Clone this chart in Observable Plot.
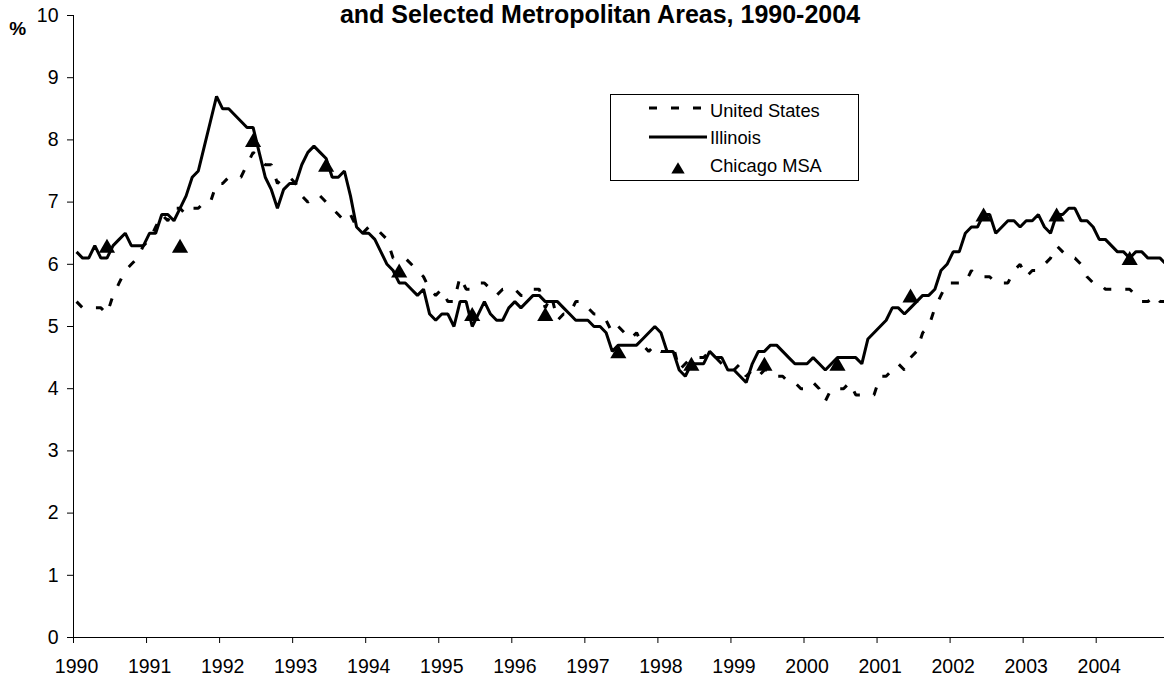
<!DOCTYPE html>
<html>
<head>
<meta charset="utf-8">
<script src="https://cdn.jsdelivr.net/npm/d3@7"></script>
<script src="https://cdn.jsdelivr.net/npm/@observablehq/plot@0.6"></script>
<style>
  html, body { margin: 0; padding: 0; background: #fff; overflow: hidden; }
  #wrap { position: relative; width: 1164px; height: 677px; overflow: hidden; background: #fff; }
  #title { position: absolute; left: 0; top: 0px; width: 1200px; text-align: center;
           font: bold 25px "Liberation Sans", Arial, sans-serif; line-height: normal; color: #000; white-space: nowrap; }
  #pct { position: absolute; left: 0; top: 18.9px; width: 35.4px; text-align: center;
         font: bold 19px/19px "Liberation Sans", Arial, sans-serif; color: #000; }
  #legend { position: absolute; left: 0; top: 0; }
  #chart svg { display: block; }
</style>
</head>
<body>
<div id="wrap">
  <div id="chart"></div>
  <div id="title">and Selected Metropolitan Areas, 1990-2004</div>
  <div id="pct">%</div>
  <svg id="legend" width="1164" height="200" font-family="'Liberation Sans', Arial, sans-serif" font-size="18.3">
    <rect x="610.5" y="94.5" width="248" height="86" fill="#fff" stroke="#000" stroke-width="1"></rect>
    <line x1="649" x2="701" y1="108" y2="108" stroke="#000" stroke-width="3" stroke-dasharray="8,14"></line>
    <text x="710" y="116.7">United States</text>
    <line x1="649" x2="707" y1="137" y2="137" stroke="#000" stroke-width="3"></line>
    <text x="710" y="144.3">Illinois</text>
    <path d="M678,162.3L684.7,173.4L671.3,173.4Z" fill="#000"></path>
    <text x="710" y="172.3">Chicago MSA</text>
  </svg>
</div>
<script>
// ---- data (monthly, Jan 1990 .. Dec 2004) ----
const startYear = 1990;
const years = [1990, 1991, 1992, 1993, 1994, 1995, 1996, 1997, 1998, 1999, 2000, 2001, 2002, 2003, 2004];
const yTicks = [0, 1, 2, 3, 4, 5, 6, 7, 8, 9, 10];

const usRate = [
  5.4, 5.3, 5.3, 5.3, 5.3, 5.2, 5.5, 5.7, 5.9, 6.0, 6.1, 6.3,
  6.4, 6.6, 6.8, 6.7, 6.9, 6.9, 6.8, 6.9, 6.9, 7.0, 7.0, 7.3,
  7.3, 7.4, 7.4, 7.4, 7.6, 7.8, 7.7, 7.6, 7.6, 7.3, 7.4, 7.4,
  7.3, 7.1, 7.0, 7.1, 7.1, 7.0, 6.9, 6.8, 6.7, 6.8, 6.6, 6.5,
  6.6, 6.6, 6.5, 6.4, 6.1, 6.1, 6.1, 6.0, 5.9, 5.8, 5.6, 5.5,
  5.6, 5.4, 5.4, 5.8, 5.6, 5.6, 5.7, 5.7, 5.6, 5.5, 5.6, 5.6,
  5.6, 5.5, 5.5, 5.6, 5.6, 5.3, 5.5, 5.1, 5.2, 5.2, 5.4, 5.4,
  5.3, 5.2, 5.2, 5.1, 4.9, 5.0, 4.9, 4.8, 4.9, 4.7, 4.6, 4.7,
  4.6, 4.6, 4.7, 4.3, 4.4, 4.5, 4.5, 4.5, 4.6, 4.5, 4.4, 4.4,
  4.3, 4.4, 4.2, 4.3, 4.2, 4.3, 4.3, 4.2, 4.2, 4.1, 4.1, 4.0,
  4.0, 4.1, 4.0, 3.8, 4.0, 4.0, 4.0, 4.1, 3.9, 3.9, 3.9, 3.9,
  4.2, 4.2, 4.3, 4.4, 4.3, 4.5, 4.6, 4.9, 5.0, 5.3, 5.5, 5.7,
  5.7, 5.7, 5.7, 5.9, 5.8, 5.8, 5.8, 5.7, 5.7, 5.7, 5.9, 6.0,
  5.8, 5.9, 5.9, 6.0, 6.1, 6.3, 6.2, 6.1, 6.1, 6.0, 5.8, 5.7,
  5.7, 5.6, 5.6, 5.6, 5.6, 5.6, 5.5, 5.4, 5.4, 5.5, 5.4, 5.4
];

const ilRate = [
  6.2, 6.1, 6.1, 6.3, 6.1, 6.1, 6.3, 6.4, 6.5, 6.3, 6.3, 6.3,
  6.5, 6.5, 6.8, 6.8, 6.7, 6.9, 7.1, 7.4, 7.5, 7.9, 8.3, 8.7,
  8.5, 8.5, 8.4, 8.3, 8.2, 8.2, 7.8, 7.4, 7.2, 6.9, 7.2, 7.3,
  7.3, 7.6, 7.8, 7.9, 7.8, 7.7, 7.4, 7.4, 7.5, 7.1, 6.6, 6.5,
  6.5, 6.4, 6.2, 6.0, 5.9, 5.7, 5.7, 5.6, 5.5, 5.6, 5.2, 5.1,
  5.2, 5.2, 5.0, 5.4, 5.4, 5.0, 5.2, 5.4, 5.2, 5.1, 5.1, 5.3,
  5.4, 5.3, 5.4, 5.5, 5.5, 5.4, 5.4, 5.4, 5.3, 5.2, 5.1, 5.1,
  5.1, 5.0, 5.0, 4.9, 4.6, 4.7, 4.7, 4.7, 4.7, 4.8, 4.9, 5.0,
  4.9, 4.6, 4.6, 4.3, 4.2, 4.4, 4.4, 4.4, 4.6, 4.5, 4.5, 4.3,
  4.3, 4.2, 4.1, 4.4, 4.6, 4.6, 4.7, 4.7, 4.6, 4.5, 4.4, 4.4,
  4.4, 4.5, 4.4, 4.3, 4.4, 4.5, 4.5, 4.5, 4.5, 4.4, 4.8, 4.9,
  5.0, 5.1, 5.3, 5.3, 5.2, 5.3, 5.4, 5.5, 5.5, 5.6, 5.9, 6.0,
  6.2, 6.2, 6.5, 6.6, 6.6, 6.8, 6.8, 6.5, 6.6, 6.7, 6.7, 6.6,
  6.7, 6.7, 6.8, 6.6, 6.5, 6.8, 6.8, 6.9, 6.9, 6.7, 6.7, 6.6,
  6.4, 6.4, 6.3, 6.2, 6.2, 6.1, 6.2, 6.2, 6.1, 6.1, 6.1, 6.0
];

// Chicago MSA: one (mid-year, June) value per year
const chicagoRate = [6.3, 6.3, 8.0, 7.6, 5.9, 5.2, 5.2, 4.6, 4.4, 4.4, 4.4, 5.5, 6.8, 6.8, 6.1];

// ---- build tables ----
const monthT = (i) => startYear + (i + 0.5) / 12;
const us = usRate.map((v, i) => ({t: monthT(i), v}));
const il = ilRate.map((v, i) => ({t: monthT(i), v}));
const chicago = chicagoRate.map((v, k) => ({t: years[k] + 5.5 / 12, v}));
const labelPos = years.map((y) => y + 0.5 / 12);

const plot = Plot.plot({
  width: 1164,
  height: 677,
  marginTop: 15,
  marginBottom: 40,
  marginLeft: 73,
  marginRight: 0,
  style: {fontFamily: "'Liberation Sans', Arial, sans-serif", fontSize: "19.5px", color: "#000", background: "transparent", overflow: "hidden"},
  x: {type: "linear", domain: [1990, 1990 + 1091 / 73.05]},
  y: {domain: [0, 10]},
  marks: [
    Plot.axisY(yTicks, {tickSize: 6, tickPadding: 9, tickFormat: (d) => String(d), label: null}),
    Plot.axisX(years, {tickSize: 6, tickFormat: () => "", label: null}),
    Plot.axisX(labelPos, {tickSize: 0, tickPadding: 22, tickFormat: (d) => String(Math.floor(d)), label: null}),
    Plot.ruleX([1990], {stroke: "#000", strokeWidth: 1}),
    Plot.ruleY([0], {stroke: "#000", strokeWidth: 1}),
    Plot.line(us, {x: "t", y: "v", stroke: "#000", strokeWidth: 3, strokeDasharray: "8,14", strokeLinecap: "butt", strokeLinejoin: "miter"}),
    Plot.line(il, {x: "t", y: "v", stroke: "#000", strokeWidth: 3, strokeLinecap: "butt", strokeLinejoin: "miter"}),
    Plot.dot(chicago, {x: "t", y: "v", symbol: "triangle", r: 6, fill: "#000", stroke: "none", dy: 2.33})
  ]
});
document.getElementById("chart").appendChild(plot);
</script>
</body>
</html>
